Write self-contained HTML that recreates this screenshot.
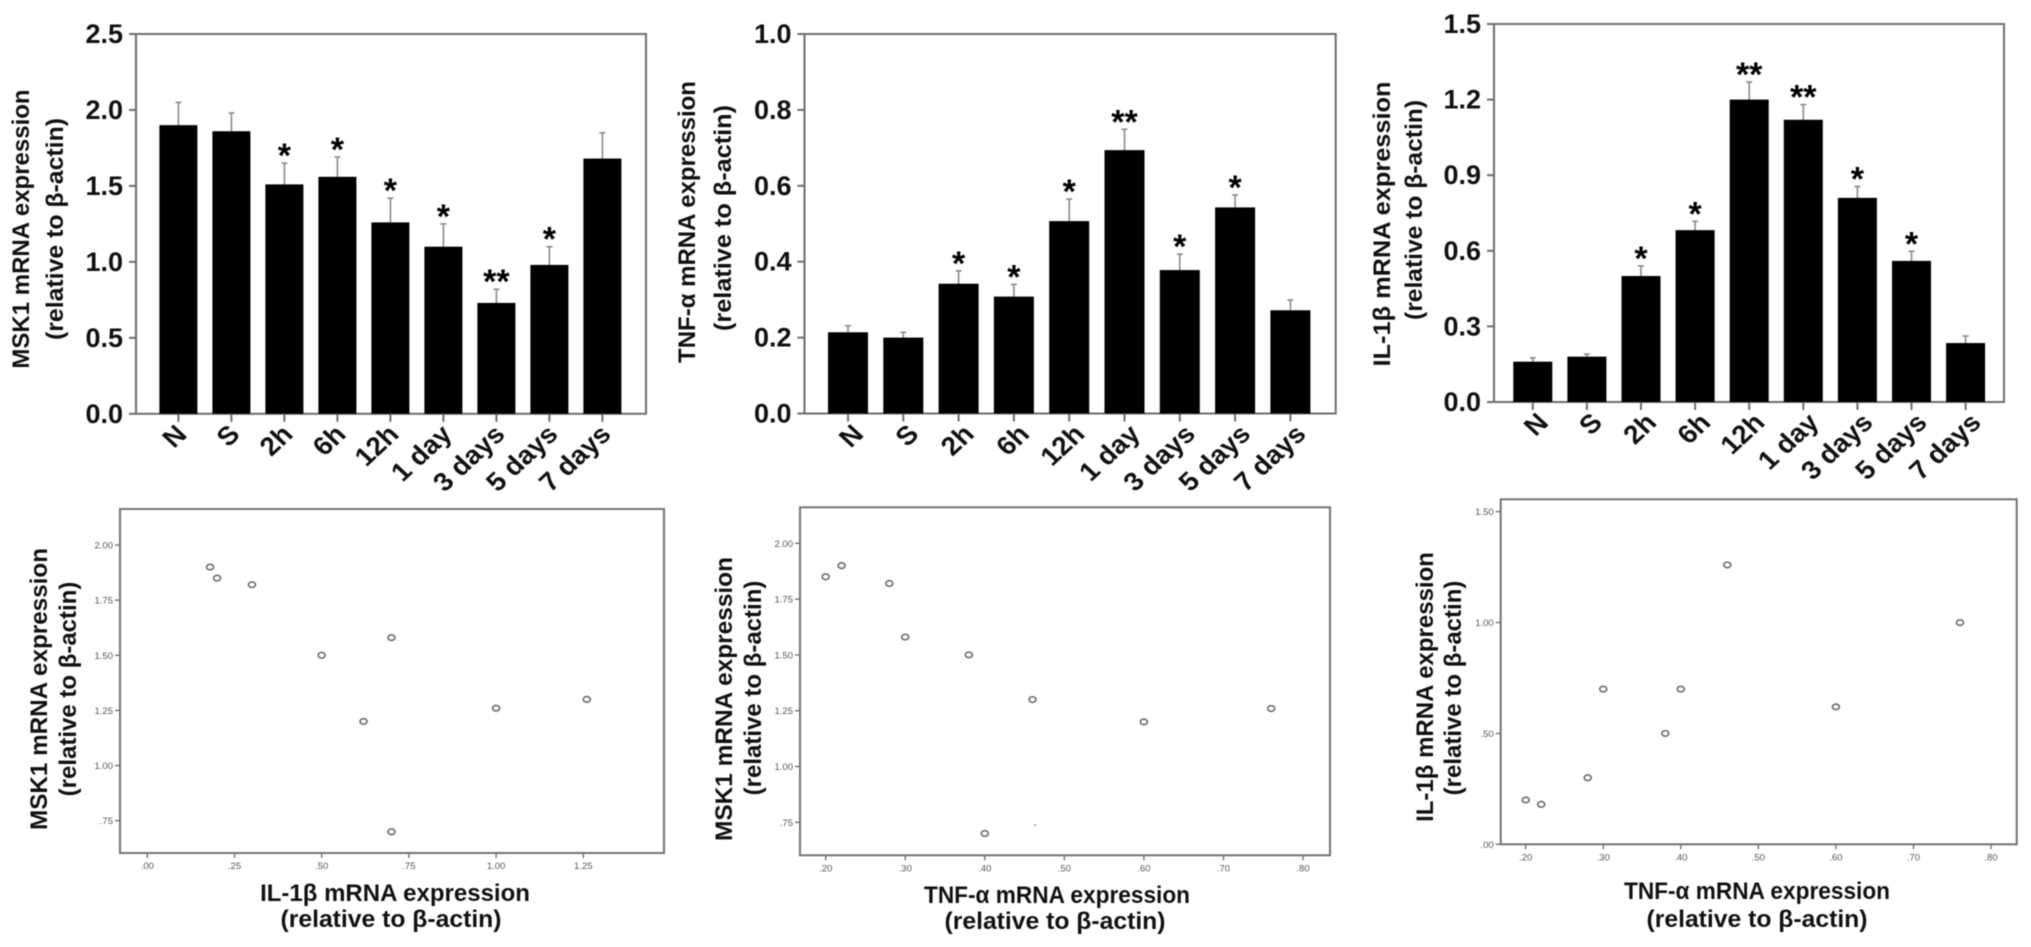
<!DOCTYPE html>
<html lang="en">
<head>
<meta charset="utf-8">
<title>MSK1, TNF-α and IL-1β mRNA expression</title>
<style>
html,body{margin:0;padding:0;background:#fff;width:2031px;height:947px;overflow:hidden}
svg{display:block;filter:blur(0.55px)}
text{font-family:"Liberation Sans",sans-serif;font-weight:bold;fill:#111}
.title{font-size:24px}
.bar-tick{font-size:26px}
.bar-y-tick{font-size:27px}
.small-tick{font-size:9.5px;font-weight:normal;fill:#555}
.star{font-size:34px;fill:#000}
</style>
</head>
<body>
<svg id="figure" xmlns="http://www.w3.org/2000/svg" width="2031" height="947" viewBox="0 0 2031 947">
  <rect width="2031" height="947" fill="#fff"/>

  <g>
    <text class="title" text-anchor="middle" transform="translate(29,229) rotate(-90)">MSK1 mRNA expression</text>
    <text class="title" text-anchor="middle" textLength="222" lengthAdjust="spacingAndGlyphs" transform="translate(63,229) rotate(-90)">(relative to β-actin)</text>
  </g>
  <g>
    <text class="title" text-anchor="middle" transform="translate(695,222) rotate(-90)">TNF-α mRNA expression</text>
    <text class="title" text-anchor="middle" textLength="226" lengthAdjust="spacingAndGlyphs" transform="translate(731,218) rotate(-90)">(relative to β-actin)</text>
  </g>
  <g>
    <text class="title" text-anchor="middle" textLength="285" lengthAdjust="spacingAndGlyphs" transform="translate(1390,224) rotate(-90)">IL-1β mRNA expression</text>
    <text class="title" text-anchor="middle" textLength="220" lengthAdjust="spacingAndGlyphs" transform="translate(1422,210) rotate(-90)">(relative to β-actin)</text>
  </g>

  <g>
    <text class="title" text-anchor="middle" textLength="282" lengthAdjust="spacingAndGlyphs" transform="translate(47,689) rotate(-90)">MSK1 mRNA expression</text>
    <text class="title" text-anchor="middle" transform="translate(76,689) rotate(-90)">(relative to β-actin)</text>
  </g>
  <g>
    <text class="title" text-anchor="middle" x="395" y="901">IL-1β mRNA expression</text>
    <text class="title" text-anchor="middle" textLength="221" lengthAdjust="spacingAndGlyphs" x="391" y="927">(relative to β-actin)</text>
  </g>
  <g>
    <text class="title" text-anchor="middle" textLength="284" lengthAdjust="spacingAndGlyphs" transform="translate(732,699) rotate(-90)">MSK1 mRNA expression</text>
    <text class="title" text-anchor="middle" transform="translate(761,688) rotate(-90)">(relative to β-actin)</text>
  </g>
  <g>
    <text class="title" text-anchor="middle" textLength="266" lengthAdjust="spacingAndGlyphs" x="1057" y="903">TNF-α mRNA expression</text>
    <text class="title" text-anchor="middle" textLength="221" lengthAdjust="spacingAndGlyphs" x="1055" y="929">(relative to β-actin)</text>
  </g>
  <g>
    <text class="title" text-anchor="middle" transform="translate(1433,687) rotate(-90)">IL-1β mRNA expression</text>
    <text class="title" text-anchor="middle" transform="translate(1461,688) rotate(-90)">(relative to β-actin)</text>
  </g>
  <g>
    <text class="title" text-anchor="middle" textLength="266" lengthAdjust="spacingAndGlyphs" x="1757" y="899">TNF-α mRNA expression</text>
    <text class="title" text-anchor="middle" textLength="221" lengthAdjust="spacingAndGlyphs" x="1757" y="927">(relative to β-actin)</text>
  </g>
</svg>

<script>
var categories = ['N', 'S', '2h', '6h', '12h', '1 day', '3 days', '5 days', '7 days'];

var msk1Values = [1.90, 1.86, 1.51, 1.56, 1.26, 1.10, 0.73, 0.98, 1.68];
var msk1ErrorTops = [2.05, 1.98, 1.65, 1.69, 1.42, 1.25, 0.82, 1.10, 1.85];
var msk1Stars = ['', '', '*', '*', '*', '*', '**', '*', ''];
var msk1TickLabels = ['0.0', '0.5', '1.0', '1.5', '2.0', '2.5'];

var tnfValues = [0.214, 0.200, 0.342, 0.308, 0.507, 0.694, 0.378, 0.543, 0.272];
var tnfErrorTops = [0.231, 0.214, 0.376, 0.340, 0.565, 0.749, 0.420, 0.576, 0.299];
var tnfStars = ['', '', '*', '*', '*', '**', '*', '*', ''];
var tnfTickLabels = ['0.0', '0.2', '0.4', '0.6', '0.8', '1.0'];

var il1bValues = [0.16, 0.18, 0.50, 0.682, 1.20, 1.12, 0.81, 0.56, 0.234];
var il1bErrorTops = [0.175, 0.19, 0.54, 0.717, 1.27, 1.18, 0.855, 0.598, 0.262];
var il1bStars = ['', '', '*', '*', '**', '**', '*', '*', ''];
var il1bTickLabels = ['0.0', '0.3', '0.6', '0.9', '1.2', '1.5'];

var scatter1X = [0.18, 0.20, 0.30, 0.50, 0.70, 0.62, 0.70, 1.00, 1.26];
var scatter1Y = [1.90, 1.85, 1.82, 1.50, 1.58, 1.20, 0.70, 1.26, 1.30];
var scatter1XTicks = ['.00', '.25', '.50', '.75', '1.00', '1.25'];
var scatter1YTicks = ['.75', '1.00', '1.25', '1.50', '1.75', '2.00'];

var scatter2X = [0.20, 0.22, 0.28, 0.30, 0.38, 0.46, 0.60, 0.76, 0.40];
var scatter2Y = [1.85, 1.90, 1.82, 1.58, 1.50, 1.30, 1.20, 1.26, 0.70];
var scatter2XTicks = ['.20', '.30', '.40', '.50', '.60', '.70', '.80'];
var scatter2YTicks = ['.75', '1.00', '1.25', '1.50', '1.75', '2.00'];

var scatter3X = [0.20, 0.22, 0.28, 0.38, 0.30, 0.40, 0.46, 0.60, 0.76];
var scatter3Y = [0.20, 0.18, 0.30, 0.50, 0.70, 0.70, 1.26, 0.62, 1.00];
var scatter3XTicks = ['.20', '.30', '.40', '.50', '.60', '.70', '.80'];
var scatter3YTicks = ['.00', '.50', '1.00', '1.50'];

var NS = 'http://www.w3.org/2000/svg';
var figure = document.getElementById('figure');

function make(tag, attrs, parent) {
  var el = document.createElementNS(NS, tag);
  for (var k in attrs) { el.setAttribute(k, attrs[k]); }
  parent.appendChild(el);
  return el;
}
function linear(d0, d1, r0, r1) {
  return function (v) { return r0 + (v - d0) * (r1 - r0) / (d1 - d0); };
}

function drawBarChart(prefix, layout, values, errorTops, stars, tickLabels) {
  var g = make('g', {}, figure);
  
  
  var maxV = parseFloat(tickLabels[tickLabels.length - 1]);
  var y = linear(0, maxV, layout.bottom, layout.top);
  var x = function (i) { return layout.firstX + i * layout.step; };
  var axisColor = '#6d6d6d';

  var frame = make('rect', {x: layout.left, y: layout.top, width: layout.right - layout.left, height: layout.bottom - layout.top, fill: 'none', stroke: axisColor, 'stroke-width': 2}, g);
  
  

  tickLabels.forEach(function (label) {
    var v = parseFloat(label);
    var tick = make('line', {x1: layout.left - 7, x2: layout.left, y1: y(v), y2: y(v), stroke: axisColor, 'stroke-width': 2}, g);
    
    
    var t = make('text', {x: layout.left - 13, y: y(v) + 9, 'text-anchor': 'end', 'class': 'bar-y-tick'}, g);
    
    
    t.textContent = label;
  });

  categories.forEach(function (cat, i) {
    var cx = x(i);
    var err = make('line', {x1: cx, x2: cx, y1: y(errorTops[i]), y2: y(values[i]), stroke: '#8a8a8a', 'stroke-width': 1.6}, g);
    
    
    var cap = make('line', {x1: cx - 3, x2: cx + 3, y1: y(errorTops[i]), y2: y(errorTops[i]), stroke: '#8a8a8a', 'stroke-width': 1.6}, g);
    
    

    var bar = make('rect', {x: cx - layout.barWidth / 2, y: y(values[i]), width: layout.barWidth, height: layout.bottom - y(values[i]), fill: '#000'}, g);
    
    

    var tick = make('line', {x1: cx, x2: cx, y1: layout.bottom, y2: layout.bottom + 8, stroke: axisColor, 'stroke-width': 2}, g);
    
    

    var lx = cx + layout.labelShift, ly = layout.bottom + 22;
    var t = make('text', {'text-anchor': 'end', 'class': 'bar-tick', transform: 'translate(' + lx + ',' + ly + ') scale(1.08,1) rotate(-45)'}, g);
    
    
    t.textContent = cat;

    if (stars[i]) {
      var s = make('text', {x: cx, y: y(errorTops[i]) + 4, 'text-anchor': 'middle', 'class': 'star'}, g);
      
      
      s.textContent = stars[i];
    }
  });
}

function drawScatter(prefix, layout, xs, ys, xTicks, yTicks) {
  var g = make('g', {}, figure);
  
  
  var xScale = linear(layout.xDomain[0], layout.xDomain[1], layout.xRange[0], layout.xRange[1]);
  var yScale = linear(layout.yDomain[0], layout.yDomain[1], layout.yRange[0], layout.yRange[1]);
  var axisColor = '#727272';

  var frame = make('rect', {x: layout.left, y: layout.top, width: layout.right - layout.left, height: layout.bottom - layout.top, fill: 'none', stroke: axisColor, 'stroke-width': 2}, g);
  
  

  xTicks.forEach(function (label) {
    var px = xScale(parseFloat(label));
    var tick = make('line', {x1: px, x2: px, y1: layout.bottom, y2: layout.bottom + 5, stroke: axisColor, 'stroke-width': 1.4}, g);
    
    
    var t = make('text', {x: px, y: layout.bottom + 16, 'text-anchor': 'middle', 'class': 'small-tick'}, g);
    
    
    t.textContent = label;
  });
  yTicks.forEach(function (label) {
    var py = yScale(parseFloat(label));
    var tick = make('line', {x1: layout.left - 5, x2: layout.left, y1: py, y2: py, stroke: axisColor, 'stroke-width': 1.4}, g);
    
    
    var t = make('text', {x: layout.left - 7, y: py + 3.5, 'text-anchor': 'end', 'class': 'small-tick'}, g);
    
    
    t.textContent = label;
  });
  xs.forEach(function (v, i) {
    var p = make('ellipse', {cx: xScale(v), cy: yScale(ys[i]), rx: 3.5, ry: 2.8, fill: 'none', stroke: '#6a6a6a', 'stroke-width': 1.6}, g);
    
    
  });
}

drawBarChart('msk1', {left: 136, right: 646, top: 34, bottom: 413.8, firstX: 178.4, step: 53, barWidth: 38, labelShift: 10}, msk1Values, msk1ErrorTops, msk1Stars, msk1TickLabels);
drawBarChart('tnf', {left: 804.5, right: 1335.7, top: 34, bottom: 413.5, firstX: 848, step: 55.3, barWidth: 40, labelShift: 17}, tnfValues, tnfErrorTops, tnfStars, tnfTickLabels);
drawBarChart('il1b', {left: 1494, right: 2004, top: 24, bottom: 402, firstX: 1532.8, step: 54.1, barWidth: 39, labelShift: 17}, il1bValues, il1bErrorTops, il1bStars, il1bTickLabels);

drawScatter('scatter-1', {left: 120, right: 664, top: 509, bottom: 853, xDomain: [0, 1.25], xRange: [147.3, 583.3], yDomain: [0.75, 2], yRange: [820.7, 545]}, scatter1X, scatter1Y, scatter1XTicks, scatter1YTicks);
drawScatter('scatter-2', {left: 800, right: 1330, top: 507.3, bottom: 855.3, xDomain: [0.2, 0.8], xRange: [825.7, 1303], yDomain: [0.75, 2], yRange: [822.3, 543.3]}, scatter2X, scatter2Y, scatter2XTicks, scatter2YTicks);
drawScatter('scatter-3', {left: 1500.7, right: 2016.7, top: 499.3, bottom: 844.3, xDomain: [0.2, 0.8], xRange: [1525.7, 1991], yDomain: [0, 1.5], yRange: [844.3, 511.7]}, scatter3X, scatter3Y, scatter3XTicks, scatter3YTicks);

var strayDot = make('circle', {cx: 1035, cy: 825, r: 1, fill: '#8a8a8a'}, figure);


</script>
</body>
</html>
